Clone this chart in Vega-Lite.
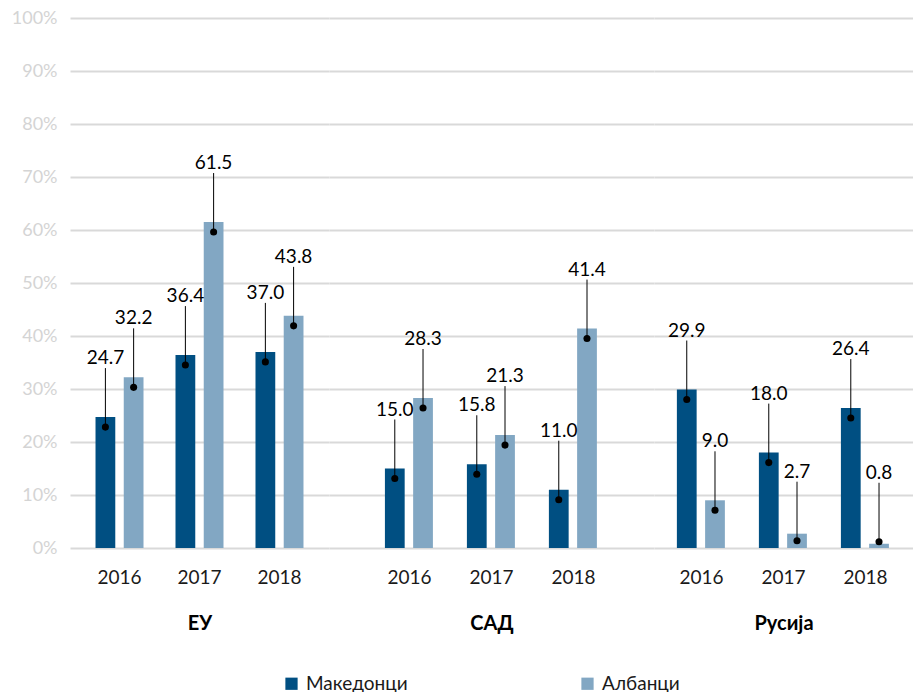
{
  "$schema": "https://vega.github.io/schema/vega-lite/v6.json",
  "padding": {"left": 11, "top": 9, "right": 0, "bottom": 0},
  "spacing": 0,
  "config": {
    "view": {"stroke": null},
    "font": "Lato",
    "axisX": {"domain": false, "ticks": false, "grid": false, "labelAngle": 0, "labelFontSize": 19, "labelColor": "#1a1a1a", "labelPadding": 20, "titleFontSize": 20, "titleFontWeight": "bold", "titleColor": "#000000", "titlePadding": 26},
    "axisY": {"domain": false, "ticks": false, "gridColor": "#d9d9d9", "gridWidth": 2, "labelFontSize": 18, "labelColor": "#d4d4d4", "labelPadding": 13}
  },
  "data": {"values": [
    {"region": "ЕУ", "year": "2016", "group": "Македонци", "value": 24.7},
    {"region": "ЕУ", "year": "2016", "group": "Албанци", "value": 32.2},
    {"region": "ЕУ", "year": "2017", "group": "Македонци", "value": 36.4},
    {"region": "ЕУ", "year": "2017", "group": "Албанци", "value": 61.5},
    {"region": "ЕУ", "year": "2018", "group": "Македонци", "value": 37.0},
    {"region": "ЕУ", "year": "2018", "group": "Албанци", "value": 43.8},
    {"region": "САД", "year": "2016", "group": "Македонци", "value": 15.0},
    {"region": "САД", "year": "2016", "group": "Албанци", "value": 28.3},
    {"region": "САД", "year": "2017", "group": "Македонци", "value": 15.8},
    {"region": "САД", "year": "2017", "group": "Албанци", "value": 21.3},
    {"region": "САД", "year": "2018", "group": "Македонци", "value": 11.0},
    {"region": "САД", "year": "2018", "group": "Албанци", "value": 41.4},
    {"region": "Русија", "year": "2016", "group": "Македонци", "value": 29.9},
    {"region": "Русија", "year": "2016", "group": "Албанци", "value": 9.0},
    {"region": "Русија", "year": "2017", "group": "Македонци", "value": 18.0},
    {"region": "Русија", "year": "2017", "group": "Албанци", "value": 2.7},
    {"region": "Русија", "year": "2018", "group": "Македонци", "value": 26.4},
    {"region": "Русија", "year": "2018", "group": "Албанци", "value": 0.8}
  ]},
  "hconcat": [
    {
      "width": 259, "height": 530,
      "transform": [{"filter": "datum.region === 'ЕУ'"}],
      "encoding": {
        "x": {"field": "year", "type": "ordinal", "scale": {"paddingInner": 0.4, "paddingOuter": 0.319}, "axis": {"title": "ЕУ"}},
        "xOffset": {"field": "group", "type": "nominal", "sort": ["Македонци", "Албанци"], "scale": {"paddingInner": 0.3, "paddingOuter": 0}},
        "y": {"field": "value", "type": "quantitative", "scale": {"domain": [0, 100], "nice": false}, "axis": {"title": null, "values": [0,10,20,30,40,50,60,70,80,90,100], "labelExpr": "datum.value + '%'"}}
      },
      "layer": [
        {"mark": {"type": "bar"}, "encoding": {"color": {"field": "group", "type": "nominal", "sort": ["Македонци", "Албанци"], "scale": {"range": ["#004f82", "#82a7c3"]}, "legend": {"title": null, "orient": "none", "legendX": 212, "legendY": 656, "direction": "horizontal", "symbolType": "square", "symbolSize": 150, "symbolStrokeWidth": 0, "labelFontSize": 19, "labelColor": "#1a1a1a", "columnPadding": 170, "labelOffset": 5}}}},
        {"mark": {"type": "rule", "color": "#000000", "strokeWidth": 1, "yOffset": {"expr": "datum.value < 2 ? -2 : datum.value < 4 ? 7 : 10"}, "y2Offset": {"expr": "datum.value < 2 ? -61 : datum.value < 4 ? -52 : -49"}}, "encoding": {"y2": {"field": "value"}}},
        {"mark": {"type": "point", "filled": true, "color": "#000000", "opacity": 1, "size": 50, "yOffset": {"expr": "datum.value < 2 ? -2 : datum.value < 4 ? 7 : 10"}}, "encoding": {}},
        {"mark": {"type": "text", "fontSize": 19, "color": "#000000", "dy": {"expr": "datum.value < 2 ? -71 : datum.value < 4 ? -62 : -59"}}, "encoding": {"text": {"field": "value", "type": "quantitative", "format": ".1f"}}}
      ]
    },
    {
      "width": 325, "height": 530,
      "transform": [{"filter": "datum.region === 'САД'"}],
      "encoding": {
        "x": {"field": "year", "type": "ordinal", "scale": {"paddingInner": 0.4, "paddingOuter": 0.682}, "axis": {"title": "САД"}},
        "xOffset": {"field": "group", "type": "nominal", "sort": ["Македонци", "Албанци"], "scale": {"paddingInner": 0.3, "paddingOuter": 0}},
        "y": {"field": "value", "type": "quantitative", "scale": {"domain": [0, 100], "nice": false}, "axis": {"title": null, "values": [0,10,20,30,40,50,60,70,80,90,100], "labels": false}}
      },
      "layer": [
        {"mark": {"type": "bar"}, "encoding": {"color": {"field": "group", "type": "nominal", "sort": ["Македонци", "Албанци"], "scale": {"range": ["#004f82", "#82a7c3"]}}}},
        {"mark": {"type": "rule", "color": "#000000", "strokeWidth": 1, "yOffset": {"expr": "datum.value < 2 ? -2 : datum.value < 4 ? 7 : 10"}, "y2Offset": {"expr": "datum.value < 2 ? -61 : datum.value < 4 ? -52 : -49"}}, "encoding": {"y2": {"field": "value"}}},
        {"mark": {"type": "point", "filled": true, "color": "#000000", "opacity": 1, "size": 50, "yOffset": {"expr": "datum.value < 2 ? -2 : datum.value < 4 ? 7 : 10"}}, "encoding": {}},
        {"mark": {"type": "text", "fontSize": 19, "color": "#000000", "dy": {"expr": "datum.value < 2 ? -71 : datum.value < 4 ? -62 : -59"}}, "encoding": {"text": {"field": "value", "type": "quantitative", "format": ".1f"}}}
      ]
    },
    {
      "width": 259, "height": 530,
      "transform": [{"filter": "datum.region === 'Русија'"}],
      "encoding": {
        "x": {"field": "year", "type": "ordinal", "scale": {"paddingInner": 0.4, "paddingOuter": 0.279}, "axis": {"title": "Русија"}},
        "xOffset": {"field": "group", "type": "nominal", "sort": ["Македонци", "Албанци"], "scale": {"paddingInner": 0.3, "paddingOuter": 0}},
        "y": {"field": "value", "type": "quantitative", "scale": {"domain": [0, 100], "nice": false}, "axis": {"title": null, "values": [0,10,20,30,40,50,60,70,80,90,100], "labels": false}}
      },
      "layer": [
        {"mark": {"type": "bar"}, "encoding": {"color": {"field": "group", "type": "nominal", "sort": ["Македонци", "Албанци"], "scale": {"range": ["#004f82", "#82a7c3"]}}}},
        {"mark": {"type": "rule", "color": "#000000", "strokeWidth": 1, "yOffset": {"expr": "datum.value < 2 ? -2 : datum.value < 4 ? 7 : 10"}, "y2Offset": {"expr": "datum.value < 2 ? -61 : datum.value < 4 ? -52 : -49"}}, "encoding": {"y2": {"field": "value"}}},
        {"mark": {"type": "point", "filled": true, "color": "#000000", "opacity": 1, "size": 50, "yOffset": {"expr": "datum.value < 2 ? -2 : datum.value < 4 ? 7 : 10"}}, "encoding": {}},
        {"mark": {"type": "text", "fontSize": 19, "color": "#000000", "dy": {"expr": "datum.value < 2 ? -71 : datum.value < 4 ? -62 : -59"}}, "encoding": {"text": {"field": "value", "type": "quantitative", "format": ".1f"}}}
      ]
    }
  ],
  "resolve": {"scale": {"color": "shared"}}
}
